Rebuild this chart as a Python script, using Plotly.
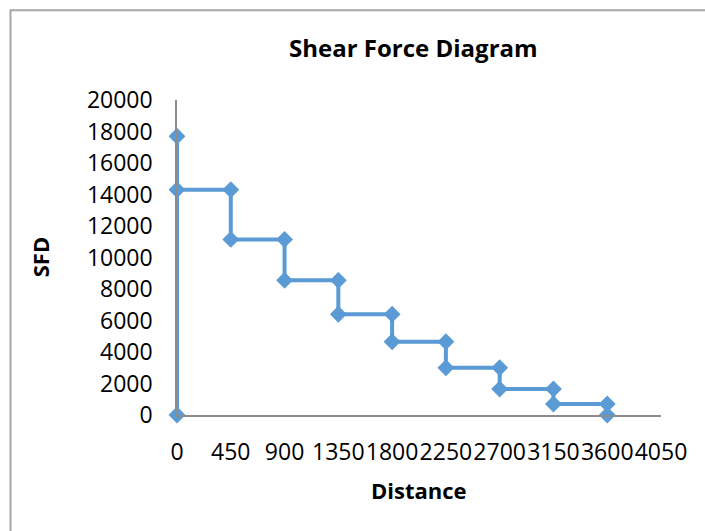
import plotly.graph_objects as go

# Data
distance = [0, 0, 0, 450, 450, 900, 900, 1350, 1350, 1800, 1800, 2250, 2250, 2700, 2700, 3150, 3150, 3600, 3600]
sfd = [0, 17700, 14300, 14300, 11150, 11150, 8550, 8550, 6400, 6400, 4650, 4650, 3000, 3000, 1650, 1650, 700, 700, 0]
x_ticks = [0, 450, 900, 1350, 1800, 2250, 2700, 3150, 3600, 4050]
y_ticks = [0, 2000, 4000, 6000, 8000, 10000, 12000, 14000, 16000, 18000, 20000]

W, H = 705, 531
L, R, T, B = 177, 44, 99.5, 116
pw, ph = W - L - R, H - T - B

def px_x(px):
    return (px - L) / pw

def px_y(py):
    return (H - B - py) / ph

FONT = "Open Sans"

fig = go.Figure()
fig.add_trace(go.Scatter(
    x=distance, y=sfd, mode="lines+markers",
    line=dict(color="#5B9BD5", width=4),
    marker=dict(symbol="diamond", size=13, color="#5B9BD5"),
    cliponaxis=False, showlegend=False,
))

fig.update_layout(
    width=W, height=H,
    margin=dict(l=L, r=R, t=T, b=B),
    paper_bgcolor="white", plot_bgcolor="white",
    font=dict(family=FONT, color="black"),
    xaxis=dict(range=[0, 4050], tickvals=x_ticks, ticktext=[str(v) for v in x_ticks],
               showgrid=False, zeroline=False, showline=True, linecolor="#8C8C8C", linewidth=1.5,
               ticks="", tickangle=0, tickfont=dict(size=23, family=FONT), ticklabelstandoff=16),
    yaxis=dict(range=[0, 20000], tickvals=y_ticks, ticktext=[str(v) for v in y_ticks],
               showgrid=False, zeroline=False, showline=True, linecolor="#8C8C8C", linewidth=1.5,
               ticks="", tickfont=dict(size=23, family=FONT), ticklabelstandoff=18),
    shapes=[dict(type="rect", xref="paper", yref="paper",
                 x0=px_x(10.5), x1=px_x(900), y0=px_y(800), y1=px_y(9.5),
                 line=dict(color="#A6A6A6", width=2), fillcolor="rgba(0,0,0,0)", layer="below")],
    annotations=[
        dict(text="<b>Shear Force Diagram</b>", xref="paper", yref="paper",
             x=px_x(413), y=px_y(47), xanchor="center", yanchor="middle",
             showarrow=False, font=dict(size=24, family=FONT)),
        dict(text="<b>Distance</b>", xref="paper", yref="paper",
             x=px_x(419), y=px_y(490), xanchor="center", yanchor="middle",
             showarrow=False, font=dict(size=22, family=FONT)),
        dict(text="<b>SFD</b>", xref="paper", yref="paper",
             x=px_x(40), y=px_y(257), xanchor="center", yanchor="middle", textangle=-90,
             showarrow=False, font=dict(size=22, family=FONT)),
    ],
)

fig.write_html("out.html")
